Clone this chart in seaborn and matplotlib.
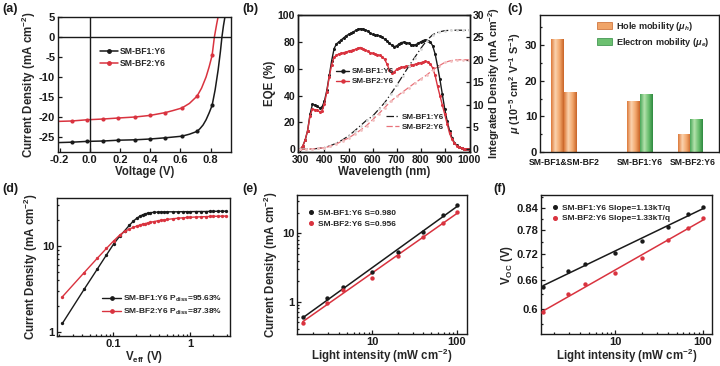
import numpy as np
import matplotlib
matplotlib.use("Agg")
import matplotlib.pyplot as plt
import seaborn as sns
from matplotlib.colors import LinearSegmentedColormap
from matplotlib.patches import Patch
from matplotlib.lines import Line2D
from matplotlib.ticker import FixedLocator, FixedFormatter, NullFormatter, LogLocator

# ---- (a) J-V curves ----
jv_v1 = [-0.21, -0.12, -0.02, 0.09, 0.19, 0.30, 0.40, 0.50, 0.61, 0.66, 0.71, 0.73, 0.75,
         0.77, 0.79, 0.81, 0.83, 0.85, 0.865, 0.875, 0.885, 0.897]
jv_j1 = [-26.4, -26.3, -26.1, -26.0, -25.8, -25.7, -25.5, -25.2, -24.8, -24.3, -23.6, -22.9,
         -22.0, -20.7, -19.0, -17.1, -13.2, -8.2, -3.6, 0.0, 2.8, 5.5]
jv_v2 = [-0.21, -0.12, -0.02, 0.09, 0.19, 0.30, 0.40, 0.50, 0.55, 0.61, 0.66, 0.71, 0.74,
         0.77, 0.79, 0.81, 0.825, 0.84, 0.852]
jv_j2 = [-21.1, -21.0, -20.7, -20.5, -20.25, -20.0, -19.6, -18.9, -18.4, -17.75, -16.6, -14.8,
         -12.8, -10.0, -7.5, -4.6, 0.0, 3.2, 5.5]
jv_mark_v = [-0.12, -0.02, 0.09, 0.19, 0.30, 0.40, 0.50, 0.61, 0.71, 0.81]
jv_mark_j1 = [-26.3, -26.1, -26.0, -25.8, -25.7, -25.5, -25.2, -24.8, -23.6, -17.1]
jv_mark_j2 = [-21.0, -20.7, -20.5, -20.25, -20.0, -19.6, -18.9, -17.75, -14.8, -4.6]

# ---- (b) EQE and integrated current ----
eqe_wl = list(range(300, 1001, 10))
eqe_bf1 = [0, 2.5, 7, 14, 26, 33.5, 33, 32, 30.8, 31.5, 36, 44, 55, 66, 75, 78.5, 80, 81.5,
           83, 84.5, 85.5, 86.5, 87.5, 88.5, 89.5, 89.8, 89.5, 89, 88, 86.5, 85.5, 85, 84.8,
           84.5, 83.5, 82, 80.5, 79, 77.5, 76.5, 77, 78.5, 79.5, 79.8, 79.5, 79, 78, 77.5,
           78, 79, 80, 81, 81.5, 81, 80, 77, 71, 62, 52, 41, 30, 21, 14, 8.5, 5, 3, 1.8, 1,
           0.5, 0.3, 0.1]
eqe_bf2 = [0, 2.5, 7, 14, 25, 30, 29.5, 29, 28, 28.5, 34, 43, 54, 63, 68.5, 70, 71, 71.5,
           72, 72.5, 73, 73.5, 74, 74.5, 75.5, 75.8, 75, 74, 73, 72, 71.5, 71, 70.5, 70, 69,
           67, 63.5, 59, 57, 57.5, 59.5, 60.5, 61, 61.5, 61.8, 62, 62.5, 63, 63.5, 64, 64.5,
           65, 65.5, 65, 63.5, 60.5, 55, 47, 40, 33, 26, 19, 12, 7.5, 4.5, 2.8, 1.6, 0.9,
           0.5, 0.3, 0.1]
int_wl = list(range(300, 1001, 25))
int_bf1 = [0, 0.02, 0.1, 0.2, 0.4, 0.8, 1.4, 2.1, 3.0, 4.1, 5.3, 6.5, 7.4, 8.9, 10.4, 12.3,
           14.3, 16.4, 18.5, 20.5, 22.5, 24.3, 25.6, 26.2, 26.5, 26.6, 26.6, 26.6, 26.6]
int_bf2 = [0, 0.02, 0.1, 0.2, 0.35, 0.7, 1.2, 1.9, 2.5, 3.4, 4.3, 5.3, 6.6, 7.9, 9.3, 10.7,
           11.8, 12.8, 13.8, 14.8, 15.7, 16.6, 17.7, 18.6, 19.4, 19.8, 20.0, 20.0, 20.0]

# ---- (c) mobilities ----
mob_groups = ["SM-BF1&SM-BF2", "SM-BF1:Y6", "SM-BF2:Y6"]
mob_group_pos = [0.0, 1.5, 2.55]
mob_bar_pos = [-0.124, 0.124, 1.376, 1.624, 2.376, 2.624]
mob_values = [31.8, 16.8, 14.3, 16.4, 5.0, 9.3]
mob_kind = ["hole", "hole", "hole", "electron", "hole", "electron"]

# ---- (d) Jph vs Veff ----
veff = [0.022, 0.042, 0.062, 0.082, 0.102, 0.122, 0.142, 0.162, 0.182, 0.202, 0.222, 0.242,
        0.262, 0.282, 0.302, 0.342, 0.382, 0.422, 0.462, 0.502, 0.602, 0.702, 0.802, 0.902,
        1.002, 1.202, 1.402, 1.602, 1.802, 2.002, 2.302, 2.602, 2.902]
jph_bf1 = [1.25, 3.1, 5.3, 7.8, 10.5, 12.9, 15.0, 17.2, 19.2, 20.8, 22.0, 22.9, 23.5, 23.9,
           24.2, 24.5, 24.6, 24.7, 24.7, 24.8, 24.8, 24.8, 24.9, 24.9, 24.9, 25.0, 25.0, 25.0,
           25.1, 25.1, 25.2, 25.2, 25.2]
jph_bf2 = [2.55, 4.85, 7.1, 9.3, 11.4, 13.3, 14.7, 15.6, 16.3, 16.9, 17.4, 17.8, 18.1, 18.4,
           18.7, 19.1, 19.5, 19.8, 20.0, 20.2, 20.6, 20.9, 21.1, 21.3, 21.4, 21.6, 21.7, 21.8,
           21.9, 22.0, 22.0, 22.1, 22.1]

# ---- (e), (f) light intensity dependence ----
light = [1.5, 2.9, 4.5, 10, 20, 40, 68, 100]
jsc_bf1 = [0.59, 1.12, 1.62, 2.75, 5.39, 10.6, 18.5, 26.0]
jsc_bf2 = [0.49, 0.97, 1.48, 2.24, 4.66, 8.74, 14.3, 20.3]
voc_bf1 = [0.646, 0.681, 0.696, 0.723, 0.752, 0.788, 0.822, 0.841]
voc_bf2 = [0.593, 0.630, 0.651, 0.676, 0.711, 0.755, 0.784, 0.811]

BLACK = "#1a1a1a"
RED = "#d9333f"

sns.set_theme(style="ticks")
plt.rcParams["font.family"] = ["Liberation Sans", "DejaVu Sans"]
plt.rcParams["font.weight"] = "bold"
plt.rcParams["axes.labelweight"] = "bold"
plt.rcParams["mathtext.fontset"] = "custom"
plt.rcParams["mathtext.rm"] = "Liberation Sans:bold"
plt.rcParams["mathtext.it"] = "Liberation Sans:bold:italic"
plt.rcParams["mathtext.bf"] = "Liberation Sans:bold"
plt.rcParams["mathtext.default"] = "rm"

fig = plt.figure(figsize=(7.2, 3.66), dpi=100)
W, H = 720, 366


def px_axes(l, t, r, b):
    return fig.add_axes([l / W, 1 - b / H, (r - l) / W, (b - t) / H])


def style(ax, size=8):
    for s in ax.spines.values():
        s.set_visible(True)
        s.set_linewidth(1.0)
        s.set_color(BLACK)
    ax.tick_params(which="both", direction="in", width=0.9, labelsize=size,
                   colors=BLACK, pad=2)
    ax.tick_params(which="major", length=3)
    ax.tick_params(which="minor", length=1.6)


LAB = 8.3
CM2 = "(mA cm$^{-2}$)"

# ================= (a) =================
ax = px_axes(58, 17, 231, 152)
sns.lineplot(x=jv_v1, y=jv_j1, ax=ax, color=BLACK, lw=1.1, sort=False)
sns.lineplot(x=jv_v2, y=jv_j2, ax=ax, color=RED, lw=1.1, sort=False)
sns.scatterplot(x=jv_mark_v, y=jv_mark_j1, ax=ax, color=BLACK, s=9, linewidth=0, zorder=3)
sns.scatterplot(x=jv_mark_v, y=jv_mark_j2, ax=ax, color=RED, s=9, linewidth=0, zorder=3)
ax.axhline(0, color=BLACK, lw=1.0)
ax.axvline(0, color=BLACK, lw=1.0)
ax.set_xlim(-0.21, 0.935)
ax.set_ylim(-28.75, 5)
ax.set_xticks([-0.2, 0.0, 0.2, 0.4, 0.6, 0.8])
ax.set_xticklabels(["-0.2", "0.0", "0.2", "0.4", "0.6", "0.8"])
ax.set_yticks([5, 0, -5, -10, -15, -20, -25])
ax.set_yticklabels(["5", "0", "-5", "-10", "-15", "-20", "-25"])
ax.set_xlabel("Voltage (V)", fontsize=LAB, labelpad=1)
ax.set_ylabel("Current Density " + CM2, fontsize=LAB, labelpad=1)
style(ax)
hands = [Line2D([], [], color=BLACK, lw=1.1, marker="o", ms=2.5),
         Line2D([], [], color=RED, lw=1.1, marker="o", ms=2.5)]
ax.legend(hands, ["SM-BF1:Y6", "SM-BF2:Y6"], loc="center left", bbox_to_anchor=(0.2, 0.70),
          frameon=False, fontsize=6.2, handlelength=2.0, handletextpad=0.3, labelspacing=0.3)

# ================= (b) =================
ax = px_axes(298, 15, 470, 152)
sns.lineplot(x=eqe_wl, y=eqe_bf1, ax=ax, color=BLACK, lw=1.0, marker="o", ms=2.2,
             markeredgewidth=0)
sns.lineplot(x=eqe_wl, y=eqe_bf2, ax=ax, color=RED, lw=1.0, marker="o", ms=2.2,
             markeredgewidth=0)
ax.set_xlim(290, 1005)
ax.set_ylim(-2, 100)
ax.set_xticks([300, 400, 500, 600, 700, 800, 900, 1000])
ax.set_yticks([0, 20, 40, 60, 80, 100])
ax.set_xlabel("Wavelength (nm)", fontsize=LAB, labelpad=1)
ax.set_ylabel("EQE (%)", fontsize=LAB, labelpad=1)
style(ax, 7.6)
hands = [Line2D([], [], color=BLACK, lw=1.0, marker="o", ms=2.2),
         Line2D([], [], color=RED, lw=1.0, marker="o", ms=2.2)]
ax.legend(hands, ["SM-BF1:Y6", "SM-BF2:Y6"], loc="center left", bbox_to_anchor=(0.18, 0.55),
          frameon=False, fontsize=5.8, handlelength=1.6, handletextpad=0.3, labelspacing=0.3)
ax2 = ax.twinx()
sns.lineplot(x=int_wl, y=int_bf1, ax=ax2, color=BLACK, lw=0.9, ls=(0, (6, 2, 1, 2)),
             marker="o", ms=2.0, markerfacecolor="#d8d8d8", markeredgewidth=0)
sns.lineplot(x=int_wl, y=int_bf2, ax=ax2, color="#e8727a", lw=0.9, ls=(0, (5, 2)),
             marker="o", ms=2.0, markerfacecolor="#f2c2c2", markeredgewidth=0)
ax2.set_ylim(-0.6, 30)
ax2.set_yticks([0, 5, 10, 15, 20, 25, 30])
ax2.set_ylabel("Integrated Density " + CM2, fontsize=7.8, labelpad=1)
style(ax2, 7.6)
hands = [Line2D([], [], color=BLACK, lw=0.9, ls=(0, (6, 2, 1, 2))),
         Line2D([], [], color="#e8727a", lw=0.9, ls=(0, (5, 2)))]
ax2.legend(hands, ["SM-BF1:Y6", "SM-BF2:Y6"], loc="center left", bbox_to_anchor=(0.47, 0.22),
           frameon=False, fontsize=5.8, handlelength=1.6, handletextpad=0.3, labelspacing=0.3)

# ================= (c) =================
ax = px_axes(540, 15, 719, 152)
col_map = {
    "hole": LinearSegmentedColormap.from_list("h", ["#dd7a3a", "#fbd3ae", "#f2a76c", "#c96428"]),
    "electron": LinearSegmentedColormap.from_list("e", ["#4aa85a", "#b4e2ac", "#6cc070", "#2f8a40"]),
}
width = 0.247
bars = ax.bar(mob_bar_pos, mob_values, width=width, color="none", edgecolor="none")
grad = np.linspace(0, 1, 64).reshape(1, -1)
for rect, kind in zip(bars, mob_kind):
    x0 = rect.get_x()
    im = ax.imshow(grad, cmap=col_map[kind], aspect="auto",
                   extent=[x0, x0 + width, 0, rect.get_height()], zorder=2)
    im.set_clip_path(rect)
ax.set_xlim(-0.47, 3.07)
ax.set_ylim(0, 38.5)
ax.set_xticks(mob_group_pos)
ax.set_xticklabels(mob_groups)
ax.set_yticks([0, 10, 20, 30])
ax.yaxis.set_minor_locator(FixedLocator([5, 15, 25, 35]))
ax.set_ylabel(r"$\mathit{\mu}$ (10$^{-5}$ cm$^2$ V$^{-1}$ S$^{-1}$)", fontsize=7.8, labelpad=1)
style(ax)
ax.tick_params(axis="x", length=0, pad=4.5, labelsize=6.2)
hands = [Patch(facecolor="#f0a468", edgecolor="#c96428", lw=0.5),
         Patch(facecolor="#6cc070", edgecolor="#2f8a40", lw=0.5)]
ax.legend(hands, [r"Hole mobility ($\mathit{\mu_h}$)", r"Electron mobility ($\mathit{\mu_e}$)"],
          loc="center left", bbox_to_anchor=(0.27, 0.86), frameon=False, fontsize=6.6,
          handlelength=1.7, handleheight=0.9, handletextpad=0.4, labelspacing=0.3)

# ================= (d) =================
ax = px_axes(57, 198, 230, 336)
sns.lineplot(x=veff, y=jph_bf1, ax=ax, color=BLACK, lw=1.0, marker="o", ms=2.4,
             markeredgewidth=0)
sns.lineplot(x=veff, y=jph_bf2, ax=ax, color=RED, lw=1.0, marker="o", ms=2.4,
             markeredgewidth=0)
ax.set_xscale("log")
ax.set_yscale("log")
ax.set_xlim(0.0187, 3.3)
ax.set_ylim(0.89, 35.9)
ax.xaxis.set_major_locator(FixedLocator([0.1, 1]))
ax.xaxis.set_major_formatter(FixedFormatter(["0.1", "1"]))
ax.yaxis.set_major_locator(FixedLocator([1, 10]))
ax.yaxis.set_major_formatter(FixedFormatter(["1", "10"]))
ax.xaxis.set_minor_locator(LogLocator(base=10, subs=np.arange(2, 10)))
ax.yaxis.set_minor_locator(LogLocator(base=10, subs=np.arange(2, 10)))
ax.xaxis.set_minor_formatter(NullFormatter())
ax.yaxis.set_minor_formatter(NullFormatter())
ax.set_xlabel("V$_{eff}$ (V)", fontsize=LAB, labelpad=0)
ax.set_ylabel("Current Density " + CM2, fontsize=LAB, labelpad=1)
style(ax)
hands = [Line2D([], [], color=BLACK, lw=1.0, marker="o", ms=2.4),
         Line2D([], [], color=RED, lw=1.0, marker="o", ms=2.4)]
ax.legend(hands, ["SM-BF1:Y6 P$_{diss}$=95.63%", "SM-BF2:Y6 P$_{diss}$=87.38%"],
          loc="lower right", bbox_to_anchor=(1.0, 0.08), frameon=False, fontsize=6.0,
          handlelength=2.2, handletextpad=0.3, labelspacing=0.35)


def fit_line(ax, x, y, color):
    # straight fit in log-log space, drawn between the first and last intensity
    k, b = np.polyfit(np.log10(x), np.log10(y), 1)
    xs = np.array([x[0], x[-1]])
    sns.lineplot(x=xs, y=10 ** (k * np.log10(xs) + b), ax=ax, color=color, lw=1.1)


def log_axes(ax, xmaj, xlab, ymaj, ylab):
    ax.set_xscale("log")
    ax.set_yscale("log")
    ax.xaxis.set_major_locator(FixedLocator(xmaj))
    ax.xaxis.set_major_formatter(FixedFormatter(xlab))
    ax.yaxis.set_major_locator(FixedLocator(ymaj))
    ax.yaxis.set_major_formatter(FixedFormatter(ylab))
    ax.xaxis.set_minor_locator(LogLocator(base=10, subs=np.arange(2, 10)))
    ax.xaxis.set_minor_formatter(NullFormatter())
    ax.yaxis.set_minor_formatter(NullFormatter())


dot_hands = [Line2D([], [], color=BLACK, lw=0, marker="o", ms=2.6),
             Line2D([], [], color=RED, lw=0, marker="o", ms=2.6)]

# ================= (e) =================
ax = px_axes(297, 195, 467, 334)
fit_line(ax, light, jsc_bf1, BLACK)
fit_line(ax, light, jsc_bf2, RED)
sns.scatterplot(x=light, y=jsc_bf1, ax=ax, color=BLACK, s=10, linewidth=0, zorder=3)
sns.scatterplot(x=light, y=jsc_bf2, ax=ax, color=RED, s=10, linewidth=0, zorder=3)
log_axes(ax, [10, 100], ["10", "100"], [1, 10], ["1", "10"])
ax.yaxis.set_minor_locator(LogLocator(base=10, subs=np.arange(2, 10)))
ax.set_xlim(1.28, 132)
ax.set_ylim(0.336, 36.4)
ax.set_xlabel("Light intensity (mW cm$^{-2}$)", fontsize=LAB, labelpad=0)
ax.set_ylabel("Current Density " + CM2, fontsize=LAB, labelpad=1)
style(ax)
ax.legend(dot_hands, ["SM-BF1:Y6 S=0.980", "SM-BF2:Y6 S=0.956"], loc="upper left",
          bbox_to_anchor=(0.02, 0.95), frameon=False, fontsize=6.0, handlelength=0.8,
          handletextpad=0.4, labelspacing=0.35)

# ================= (f) =================
ax = px_axes(541, 195, 712, 334)
fit_line(ax, light, voc_bf1, BLACK)
fit_line(ax, light, voc_bf2, RED)
sns.scatterplot(x=light, y=voc_bf1, ax=ax, color=BLACK, s=10, linewidth=0, zorder=3)
sns.scatterplot(x=light, y=voc_bf2, ax=ax, color=RED, s=10, linewidth=0, zorder=3)
log_axes(ax, [10, 100], ["10", "100"], [0.6, 0.66, 0.72, 0.78, 0.84],
         ["0.6", "0.66", "0.72", "0.78", "0.84"])
ax.yaxis.set_minor_locator(FixedLocator([0.57, 0.63, 0.69, 0.75, 0.81, 0.87]))
ax.set_xlim(1.42, 127)
ax.set_ylim(0.552, 0.876)
ax.set_xlabel("Light intensity (mW cm$^{-2}$)", fontsize=LAB, labelpad=0)
ax.set_ylabel("V$_{OC}$ (V)", fontsize=LAB, labelpad=1)
style(ax)
ax.legend(dot_hands, ["SM-BF1:Y6 Slope=1.13kT/q", "SM-BF2:Y6 Slope=1.33kT/q"],
          loc="upper left", bbox_to_anchor=(0.02, 0.99), frameon=False, fontsize=6.0,
          handlelength=0.8, handletextpad=0.4, labelspacing=0.35)

# panel letters
for lab, x, y in [("(a)", 2, 3), ("(b)", 242, 3), ("(c)", 507, 3),
                  ("(d)", 2, 183), ("(e)", 242, 183), ("(f)", 493, 183)]:
    fig.text(x / W, 1 - y / H, lab, fontsize=9, fontweight="bold", va="top", ha="left",
             color=BLACK)

fig.savefig("out.png", dpi=100)
